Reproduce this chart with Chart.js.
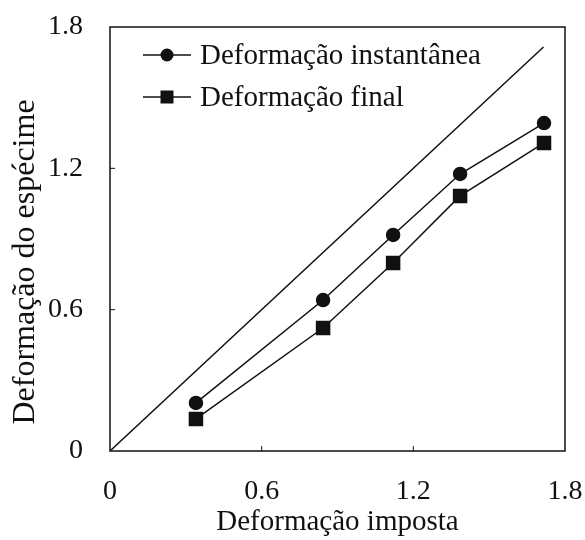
<!DOCTYPE html>
<html>
<head>
<meta charset="utf-8">
<script src="https://cdn.jsdelivr.net/npm/chart.js@4.4.0/dist/chart.umd.min.js"></script>
<style>
  html, body { margin: 0; padding: 0; background: #fff; }
  #wrap { width: 585px; height: 540px; }
</style>
</head>
<body>
<div id="wrap"><canvas id="chart"></canvas></div>
<script>
const imposed = [0.34, 0.843, 1.12, 1.385, 1.717];
const instantaneous = [0.204, 0.641, 0.917, 1.176, 1.392];
const finalDef = [0.136, 0.522, 0.798, 1.083, 1.308];
const identityLine = [0, 1.715];
const xTicks = [0, 0.6, 1.2, 1.8];
const yTicks = [0, 0.6, 1.2, 1.8];
const seriesNames = ['Deformação instantânea', 'Deformação final'];
const xTitle = 'Deformação imposta';
const yTitle = 'Deformação do espécime';

const serif = '"Liberation Serif", "Times New Roman", serif';

function pairs(xs, ys) {
  return xs.map((x, i) => ({ x: x, y: ys[i] }));
}

// box around the plot area, inward ticks, y title and the legend inside the plot
const framePlugin = {
  id: 'frame',
  afterDraw(chart) {
    const { ctx, chartArea: a, scales } = chart;
    ctx.save();
    ctx.strokeStyle = '#111';
    ctx.lineWidth = 1.5;
    ctx.strokeRect(a.left, a.top, a.right - a.left, a.bottom - a.top);

    ctx.lineWidth = 1;
    xTicks.slice(1, -1).forEach(v => {
      const px = scales.x.getPixelForValue(v);
      ctx.beginPath();
      ctx.moveTo(px, a.bottom);
      ctx.lineTo(px, a.bottom - 5);
      ctx.stroke();
    });
    yTicks.slice(1, -1).forEach(v => {
      const py = scales.y.getPixelForValue(v);
      ctx.beginPath();
      ctx.moveTo(a.left, py);
      ctx.lineTo(a.left + 5, py);
      ctx.stroke();
    });

    // y title, sits a bit below the middle of the plot in the original
    ctx.fillStyle = '#111';
    ctx.save();
    ctx.translate(26, (a.top + a.bottom) / 2 + 23);
    ctx.rotate(-Math.PI / 2);
    ctx.font = '32px ' + serif;
    ctx.textAlign = 'center';
    ctx.textBaseline = 'middle';
    ctx.fillText(yTitle, 0, 0);
    ctx.restore();

    // legend
    const lx = a.left + 33;
    const rows = [a.top + 28, a.top + 70];
    ctx.font = '29px ' + serif;
    ctx.textBaseline = 'middle';
    seriesNames.forEach((name, i) => {
      const y = rows[i];
      ctx.lineWidth = 1.5;
      ctx.beginPath();
      ctx.moveTo(lx, y);
      ctx.lineTo(lx + 48, y);
      ctx.stroke();
      ctx.beginPath();
      if (i === 0) {
        ctx.arc(lx + 24, y, 6.5, 0, Math.PI * 2);
      } else {
        ctx.rect(lx + 24 - 6.5, y - 6.5, 13, 13);
      }
      ctx.fill();
      ctx.fillText(name, lx + 57, y + 1);
    });
    ctx.restore();
  }
};

const chart = new Chart(document.getElementById('chart'), {
  type: 'scatter',
  data: {
    datasets: [
      {
        label: seriesNames[0],
        data: pairs(imposed, instantaneous),
        showLine: true,
        borderColor: '#111',
        backgroundColor: '#111',
        borderWidth: 1.5,
        pointStyle: 'circle',
        pointRadius: 6.5,
        pointHoverRadius: 6.5
      },
      {
        label: seriesNames[1],
        data: pairs(imposed, finalDef),
        showLine: true,
        borderColor: '#111',
        backgroundColor: '#111',
        borderWidth: 1.5,
        pointStyle: 'rect',
        pointRadius: 9.2,
        pointHoverRadius: 9.2
      },
      {
        label: 'y = x',
        data: pairs(identityLine, identityLine),
        showLine: true,
        borderColor: '#111',
        borderWidth: 1.5,
        pointRadius: 0,
        pointHoverRadius: 0
      }
    ]
  },
  options: {
    responsive: true,
    maintainAspectRatio: false,
    animation: false,
    layout: { padding: { left: 0, top: 27, right: 20, bottom: 0 } },
    plugins: {
      legend: { display: false },
      tooltip: { enabled: false }
    },
    scales: {
      x: {
        type: 'linear',
        min: 0,
        max: 1.8,
        afterBuildTicks: scale => { scale.ticks = xTicks.map(v => ({ value: v })); },
        afterFit: scale => {
          scale.height = 89;
          scale.paddingLeft = 0;
          scale.paddingRight = 0;
        },
        grid: { display: false, drawTicks: false },
        border: { display: false },
        ticks: {
          color: '#111',
          padding: 24,
          font: { family: serif, size: 28 },
          callback: v => (v === 0 ? '0' : v.toFixed(1))
        },
        title: {
          display: true,
          text: xTitle,
          color: '#111',
          font: { family: serif, size: 29 },
          padding: { top: 0, bottom: 0 }
        }
      },
      y: {
        type: 'linear',
        min: 0,
        max: 1.8,
        afterBuildTicks: scale => { scale.ticks = yTicks.map(v => ({ value: v })); },
        afterFit: scale => {
          scale.width = 110;
          scale.paddingTop = 0;
          scale.paddingBottom = 0;
        },
        grid: { display: false, drawTicks: false },
        border: { display: false },
        ticks: {
          color: '#111',
          padding: 27,
          font: { family: serif, size: 28 },
          callback: v => (v === 0 ? '0' : v.toFixed(1))
        },
        title: { display: false }
      }
    }
  },
  plugins: [framePlugin]
});
</script>
</body>
</html>
